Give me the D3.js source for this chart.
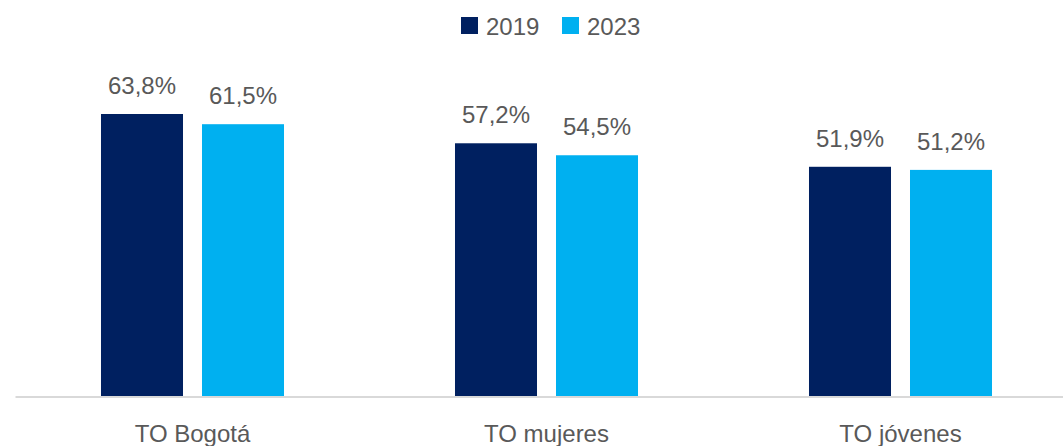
<!DOCTYPE html>
<html>
<head>
<meta charset="utf-8">
<script src="https://cdn.jsdelivr.net/npm/d3@7"></script>
<style>
  html, body { margin: 0; padding: 0; background: #fff; }
  svg { display: block; font-family: "Liberation Sans", "Open Sans", sans-serif; }
</style>
</head>
<body>
<svg id="chart" width="1063" height="446"></svg>
<script>
// Tasa de ocupación por grupo, 2019 vs 2023
const categories = ["TO Bogotá", "TO mujeres", "TO jóvenes"];
const seriesNames = ["2019", "2023"];
const values2019 = [63.8, 57.2, 51.9];
const values2023 = [61.5, 54.5, 51.2];
const colors = ["#002060", "#00B0F0"];

const rows = categories.map((c, i) => ({ cat: c, vals: [values2019[i], values2023[i]] }));
const fmt = v => d3.format(".1f")(v).replace(".", ",") + "%";

const svg = d3.select("#chart");
const W = 1063, H = 446;
const left = 15.5, right = 1077.5, baseline = 397;

const x0 = d3.scaleBand().domain(categories).range([left, right])
  .paddingInner(0.483).paddingOuter(0.2415);
const x1 = d3.scaleBand().domain(seriesNames).range([0, x0.bandwidth()])
  .paddingInner(0.188).paddingOuter(0);
const y = d3.scaleLinear().domain([0, 70]).range([baseline, 86.5]);

const textColor = "#595959";

// bars
const groups = svg.append("g").selectAll("g").data(rows).join("g")
  .attr("transform", d => `translate(${x0(d.cat)},0)`);

groups.selectAll("rect")
  .data(d => d.vals.map((v, j) => ({ key: seriesNames[j], v, j })))
  .join("rect")
  .attr("x", d => x1(d.key))
  .attr("width", x1.bandwidth())
  .attr("y", d => y(d.v))
  .attr("height", d => y(0) - y(d.v))
  .attr("fill", d => colors[d.j]);

// value labels
groups.selectAll("text.val")
  .data(d => d.vals.map((v, j) => ({ key: seriesNames[j], v, j })))
  .join("text")
  .attr("class", "val")
  .attr("x", d => x1(d.key) + x1.bandwidth() / 2)
  .attr("y", d => y(d.v) - 20)
  .attr("text-anchor", "middle")
  .attr("font-size", 24)
  .attr("fill", textColor)
  .text(d => fmt(d.v));

// category axis
const xAxis = d3.axisBottom(x0).tickSize(0).tickPadding(28);
const ax = svg.append("g").attr("transform", `translate(0,${baseline})`).call(xAxis);
ax.select(".domain").attr("stroke", "#d9d9d9").attr("stroke-width", 2)
  .attr("d", `M${left},0H${W}`);
ax.selectAll(".tick text")
  .attr("font-size", 24)
  .attr("font-family", "Liberation Sans, Open Sans, sans-serif")
  .attr("fill", textColor)
  .attr("dy", "0.71em");

// legend
const legend = svg.append("g");
const legendX = [461, 562];
seriesNames.forEach((s, j) => {
  legend.append("rect")
    .attr("x", legendX[j]).attr("y", 17)
    .attr("width", 17).attr("height", 17)
    .attr("fill", colors[j]);
  legend.append("text")
    .attr("x", legendX[j] + 25).attr("y", 35)
    .attr("font-size", 24)
    .attr("fill", textColor)
    .text(s);
});
</script>
</body>
</html>
